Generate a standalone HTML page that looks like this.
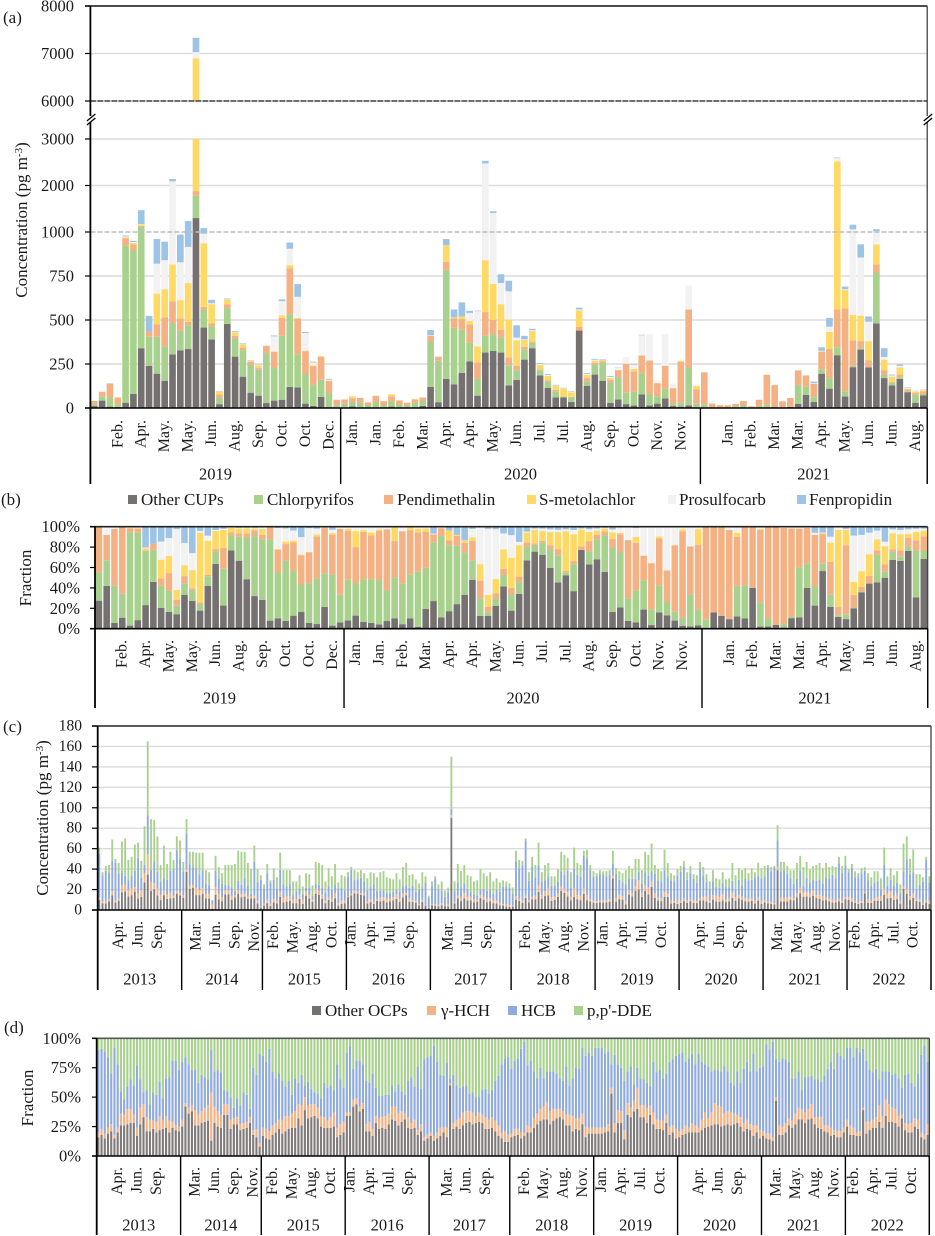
<!DOCTYPE html>
<html lang="en">
<head>
<meta charset="utf-8">
<title>Pesticide concentrations and fractions</title>
<style>
html,body{margin:0;padding:0;background:#fff;}
svg{display:block;font-family:"Liberation Serif",serif;fill:#1a1a1a;filter:blur(0.35px);}
</style>
</head>
<body>
<svg id="fig" xmlns="http://www.w3.org/2000/svg" width="935" height="1236" viewBox="0 0 935 1236">
  <rect x="0" y="0" width="935" height="1236" fill="#fff"/>
  <g id="layer-a"></g>
  <g id="layer-b"></g>
  <g id="layer-c"></g>
  <g id="layer-d"></g>

  <text x="3" y="23" font-size="17">(a)</text>
  <text x="1" y="505" font-size="17">(b)</text>
  <text x="3" y="732" font-size="17">(c)</text>
  <text x="4" y="1033" font-size="17">(d)</text>

  <text transform="translate(27,220) rotate(-90)" text-anchor="middle" font-size="17">Concentration (pg m<tspan dy="-5" font-size="11">-3</tspan><tspan dy="5">)</tspan></text>
  <text transform="translate(31,578) rotate(-90)" text-anchor="middle" font-size="17">Fraction</text>
  <text transform="translate(48,818) rotate(-90)" text-anchor="middle" font-size="17">Concentration (pg m<tspan dy="-5" font-size="11">-3</tspan><tspan dy="5">)</tspan></text>
  <text transform="translate(33,1098) rotate(-90)" text-anchor="middle" font-size="17">Fraction</text>

  <g font-size="17">
    <rect x="128" y="495" width="9" height="9" fill="#767171"/>
    <text x="141" y="505">Other CUPs</text>
    <rect x="254" y="495" width="9" height="9" fill="#a9d18e"/>
    <text x="267" y="505">Chlorpyrifos</text>
    <rect x="384" y="495" width="9" height="9" fill="#f4b183"/>
    <text x="397" y="505">Pendimethalin</text>
    <rect x="527" y="495" width="9" height="9" fill="#ffd966"/>
    <text x="539" y="505">S-metolachlor</text>
    <rect x="668" y="495" width="8" height="9" fill="#f2f2f2"/>
    <text x="679" y="505">Prosulfocarb</text>
    <rect x="797" y="495" width="9" height="9" fill="#9dc3e6"/>
    <text x="809" y="505">Fenpropidin</text>
  </g>

  <g font-size="17" style='font-family:"Liberation Serif","Noto Serif CJK SC",serif'>
    <rect x="312" y="1006" width="9" height="9" fill="#767171"/>
    <text x="325" y="1016">Other OCPs</text>
    <rect x="427" y="1006" width="9" height="9" fill="#f4b183"/>
    <text x="441" y="1016">γ-HCH</text>
    <rect x="508" y="1006" width="9" height="9" fill="#8faadc"/>
    <text x="521" y="1016">HCB</text>
    <rect x="574" y="1006" width="9" height="9" fill="#a9d18e"/>
    <text x="587" y="1016">p,p'-DDE</text>
  </g>
</svg>

<script>
/* ---------- CUP data: panels (a) and (b), 107 samples ---------- */
const cupOther = [11,42,8,6.5,30,80,340,240,195,155, 305,328,335,1300,457,390,22,478,292,178, 87,70,28,42,47,120,117,25,12,63, 5,3,4,9,4,2,3,3,8,2, 3,1,12,120,33,165,135,200,265,70, 315,325,315,128,160,275,340,185,115,60, 60,35,440,125,190,155,30,48,22,15, 78,15,25,55,11,8,15,4,0,4, 2,1.5,3,4,4,1,4,5,0.5,6, 24,75,34,195,110,300,65,232,332,230, 480,170,128,165,90,30,72];
const cupChlorpyrifos = [11,25,52,14,895,815,780,165,210,195, 175,110,135,480,100,75,35,90,103,150, 160,147,282,185,363,412,188,168,118,97, 83,13,20,22,25,15,31,12,31,18, 13,28,25,255,235,620,320,245,105,95, 95,95,85,115,55,55,30,30,35,35, 3,25,0,25,55,100,115,125,65,78, 120,65,42,55,12,22,215,20,18,0, 0,0,7.5,13,0,11.5,15,0,1.5,1, 107,45,28,25,60,45,30,8,8,0, 290,20,15,10,5,45,8];
const cupPendimethalin = [18,25,80,39.5,40,35,10,30,70,165, 125,70,20,100,18,15,20,20,15,15, 15,10,43,92,102,262,202,130,108,130, 65,31,24,25,28,15,35,24,28,23, 13,20,22,35,22,45,55,60,105,95, 135,80,45,45,25,17,7,5,8,8, 2,3,20,20,12,10,15,40,165,115, 100,190,72,130,90,232,330,81,185,21, 14,14,12,23,6,34,170,125,36,50, 83,65,76,100,165,215,470,145,40,40, 45,25,5,15,10,10,15];
const cupSMetolachlor = [0,0,0,0,5,8,30,0,175,160, 210,105,220,5020,360,110,17,28,20,18, 5,15,0,3,15,18,5,3,5,3, 3,0,1,11,1,1,1,0,11,0, 1,2,2,0,2,95,5,15,20,90, 295,205,145,215,145,40,60,25,25,22, 45,25,95,18,12,8,12,3,0,14, 0,0,3,0,0,6,0,20,0,0, 0,0,1,0,0,0.5,0,0,0,0, 0,0,0,3,97,1960,105,145,145,110, 115,60,30,40,5,8,6];
const cupProsulfocarb = [0,8,3,0,5,5,10,0,170,165, 1275,215,205,130,55,5,1,2,3,2, 2,3,0,85,80,93,120,100,15,0, 5,1,1,3,2,2,2,1,0,2, 0,1,1,3,3,0,0,0,45,200, 1635,705,120,160,15,3,5,5,5,3, 2,4,5,5,5,2,5,12,38,22, 115,150,15,180,25,7,135,3,0,0, 0,0.5,1.5,0,0,1,1,0,0.5,1, 4,2,3,2,30,70,5,527,330,110, 90,15,7,10,5,3,2];
const cupFenpropidin = [0,0,0,0,5,7,300,88,140,105, 50,157,320,300,95,20,2,4,5,4, 3,2,1,5,10,35,72,6,5,1, 5,0,0,0,0,0,0,0,0,0, 0,0,0,30,0,35,45,80,12,3, 55,35,50,60,70,20,8,5,5,4, 3,3,10,5,5,3,5,2,0,3, 3,0,0,0,0,0,0,0,0,0, 0,0,0,0,0,0,0,0,0,0, 0,0,9,20,50,10,15,100,75,30, 40,50,5,8,3,2,2];
const cupMonthLabels = ['','Feb.','Apr.','May.','May.','Jun.','Aug.','Sep.','Oct.','Oct.','Dec.','Jan.','Jan.','Feb.','Mar.','Apr.','Apr.','May.','Jun.','Jul.','Jul.','Aug.','Sep.','Oct.','Nov.','Nov.','','Jan.','Feb.','Mar.','Mar.','Apr.','May.','Jun.','Jun.','Aug.'];
const cupYears = ['2019','2020','2021'];
const cupYearCounts = [32,46,29];
const cupConcentrationTicks = [0,250,500,750,1000,2000,3000,6000,7000,8000];
const cupFractionTicks = [0,20,40,60,80,100];

/* ---------- OCP data: panels (c) and (d), 258 samples ---------- */
const ocpTotal = [61,37,43,44,69,50,46,67,70,49,52,64,66,48,82,165,89,88,72,44,63,45,57,49,72,68,
47,89,57,57,56,56,56,39,37,10,53,42,36,44,44,44,45,58,57,57,46,40,63,40,34,
25,45,29,41,32,56,39,39,39,28,28,34,23,36,35,24,47,46,44,28,41,33,45,27,34,33,
37,42,39,37,39,36,31,37,36,32,37,38,32,31,30,36,30,42,46,34,35,30,26,37,33,14,
28,33,25,28,19,22,150,28,45,38,44,34,33,28,29,40,36,33,37,28,31,27,29,28,26,
22,58,49,48,70,37,52,44,66,37,44,46,33,33,40,57,54,51,37,61,46,44,58,59,44,38,
36,39,38,38,39,58,41,38,36,39,43,40,50,50,39,57,54,65,44,40,38,59,46,36,34,40,
43,48,37,43,35,34,47,42,35,28,39,31,30,37,30,31,46,34,41,39,41,36,41,37,46,41,
43,44,42,43,83,47,47,43,39,39,46,53,42,47,40,43,44,46,41,46,42,43,42,52,43,53,
40,45,38,36,41,42,36,32,38,38,31,61,33,41,34,38,25,65,72,50,59,35,35,32,52,33];
const ocpOtherPct = [16,18,15,19,21,15,20,26,26,27,28,28,17,27,33,21,21,23,20,22,23,24,20,24,22,21,
25,42,36,38,26,26,28,29,30,13,28,25,24,35,35,23,27,27,22,23,24,28,18,16,8,
17,15,14,18,20,23,19,21,23,24,24,32,26,39,32,33,34,32,25,24,24,24,25,16,18,20,
34,34,42,44,38,40,21,21,17,28,23,24,23,27,31,30,26,29,31,24,23,24,18,21,13,15,
17,13,15,17,20,16,60,23,25,23,26,28,29,27,28,29,28,23,23,24,21,17,15,12,12,
16,17,18,15,17,20,20,24,27,30,31,31,27,30,32,33,31,26,26,21,23,22,27,16,19,19,
19,19,19,20,21,53,20,28,28,14,35,33,38,40,33,33,28,35,27,23,23,22,28,18,20,15,
16,18,19,20,20,20,20,22,24,25,26,27,27,25,26,27,26,27,28,25,21,23,22,17,20,15,
17,15,14,13,47,18,18,20,26,24,27,31,31,28,31,32,27,24,23,21,20,17,18,16,16,20,
25,18,18,17,17,39,19,22,24,24,29,24,34,29,29,28,25,32,22,20,20,25,23,16,14,18];
const ocpGammaPct = [4,5,4,5,6,3,4,10,9,13,12,7,7,14,11,12,10,7,9,12,7,10,10,5,4,4,
6,3,5,5,13,9,10,12,13,41,14,13,11,9,9,8,5,6,5,5,5,5,4,7,3,
7,8,7,8,8,8,11,13,11,12,14,12,17,11,11,11,10,9,9,9,6,9,12,8,9,9,
3,3,6,5,4,5,6,8,6,6,9,9,11,9,11,12,10,9,5,9,5,7,4,6,3,3,
3,4,5,7,4,8,2,5,6,9,11,10,9,10,6,8,7,10,8,9,9,9,5,9,6,
3,6,5,5,3,6,4,8,9,10,11,15,11,10,8,7,7,9,9,13,9,10,9,9,5,5,
5,5,5,4,6,5,8,11,10,8,10,8,9,18,10,10,13,8,10,8,7,8,7,7,6,8,
5,5,7,4,8,6,4,9,13,7,11,18,16,17,10,11,11,9,7,8,7,8,5,9,6,7,
4,4,5,3,3,8,7,8,6,6,9,10,9,9,9,12,6,9,10,5,6,7,4,5,5,4,
6,8,6,3,4,2,10,7,7,9,14,10,14,15,12,12,9,3,6,7,8,7,8,4,4,9];
const ocpHcbPct = [70,68,70,60,43,74,54,19,13,19,25,25,53,24,10,23,13,24,23,29,19,32,37,52,55,48,
49,39,37,30,34,27,31,26,22,36,30,35,36,12,11,19,9,16,16,26,23,7,53,46,76,
61,57,70,46,38,39,34,25,30,16,28,18,26,10,20,13,10,12,15,29,28,27,19,54,38,29,
51,56,26,32,39,33,37,33,47,24,19,18,18,16,18,13,25,17,16,31,39,28,54,30,66,66,
65,77,60,45,44,55,4,41,29,26,22,22,15,17,16,13,21,24,22,23,34,42,58,62,66,
55,58,60,71,77,51,57,40,30,35,24,26,34,32,30,26,26,41,25,32,43,42,56,60,64,61,
68,68,68,63,62,20,58,39,37,42,27,35,14,17,23,22,21,16,43,40,43,36,35,55,56,62,
66,65,54,59,59,52,63,49,41,44,35,28,30,30,40,34,25,24,37,29,46,49,45,61,46,53,
55,76,71,81,32,54,58,54,48,36,30,31,16,30,27,24,32,32,30,42,48,56,52,67,64,58,
61,66,60,72,67,50,52,44,40,41,22,38,24,28,28,30,32,23,41,43,34,27,39,66,76,53];
const ocpDdePct = [10,9,11,16,30,8,22,45,52,41,35,40,23,35,46,44,56,46,48,37,51,34,33,19,19,27,
20,16,22,27,27,38,31,33,35,10,28,27,29,44,45,50,59,51,57,46,48,60,25,31,13,
15,20,9,28,34,30,36,41,36,48,34,38,31,40,37,43,46,47,51,38,42,40,44,22,35,42,
12,7,26,19,19,22,36,38,30,42,49,49,48,48,40,45,39,45,48,36,33,41,24,43,18,16,
15,6,20,31,32,21,34,31,40,42,41,40,47,46,50,50,44,43,47,44,36,32,22,17,16,
26,19,17,9,3,23,19,28,34,25,34,28,28,28,30,34,36,24,40,34,25,26,8,15,12,15,
8,8,8,13,11,22,14,22,25,36,28,24,39,25,34,35,38,41,20,29,27,34,30,20,18,15,
13,12,20,17,13,22,13,20,22,24,28,27,27,28,24,28,38,40,28,38,26,20,28,13,28,25,
24,5,10,3,18,20,17,18,20,34,34,28,44,33,33,32,35,35,37,32,26,20,26,12,15,18,
8,8,16,8,12,9,19,27,29,26,35,28,28,28,31,30,34,42,31,30,38,41,30,14,6,20];
const ocpMonthLabels = ['','Apr.','Jun.','Sep.','','Mar.','Jun.','Sep.','Nov.','Feb.','May.','Aug.','Oct.','Jan.','Apr.','Jul.','Sep.','','Mar.','Jun.','Sep.','','Feb.','May.','Aug.','Nov.','Jan.','Apr.','Jul.','Oct.','','Apr.','Jun.','Sep.','','Mar.','May.','Aug.','Nov.','Feb.','Apr.','Jul.','Oct.'];
const ocpYears = ['2013','2014','2015','2016','2017','2018','2019','2020','2021','2022'];
const ocpYearCounts = [26,25,26,26,25,26,26,26,26,26];
const ocpConcentrationTicks = [0,20,40,60,80,100,120,140,160,180];
const ocpFractionTicks = [0,25,50,75,100];

const cupSeries = [
  {key:'other-cups', values:cupOther, color:'#767171'},
  {key:'chlorpyrifos', values:cupChlorpyrifos, color:'#a9d18e'},
  {key:'pendimethalin', values:cupPendimethalin, color:'#f4b183'},
  {key:'s-metolachlor', values:cupSMetolachlor, color:'#ffd966'},
  {key:'prosulfocarb', values:cupProsulfocarb, color:'#f2f2f2'},
  {key:'fenpropidin', values:cupFenpropidin, color:'#9dc3e6'}
];
const ocpPctSeries = [
  {key:'other-ocps', values:ocpOtherPct, color:'#7f7b7b'},
  {key:'gamma-hch', values:ocpGammaPct, color:'#f4b183'},
  {key:'hcb', values:ocpHcbPct, color:'#8faadc'},
  {key:'pp-dde', values:ocpDdePct, color:'#a9d18e'}
];

const NS = 'http://www.w3.org/2000/svg';
function mk(parent, tag, attrs) {
  const el = document.createElementNS(NS, tag);
  for (const k in attrs) el.setAttribute(k, attrs[k]);
  parent.appendChild(el);
  return el;
}
function line(parent, name, x1, y1, x2, y2, stroke, width, dash) {
  const attrs = {x1, y1, x2, y2, stroke, 'stroke-width': width};
  if (dash) attrs['stroke-dasharray'] = dash;
  const el = mk(parent, 'line', attrs);
  
  
  return el;
}
function text(parent, name, str, attrs) {
  const el = mk(parent, 'text', attrs);
  el.textContent = str;
  
  
  return el;
}

/* y axis functions */
function yCupConc(v) {
  if (v <= 1000) return 408 - v * 0.176;
  if (v <= 3000) return 232 - (v - 1000) * 0.0465;
  if (v >= 6000) return 101 - (v - 6000) * 0.0475;
  return 139;
}
function yCupFrac(p) { return 628.7 - p * 1.02; }
function yOcpConc(v) { return 910 - v * 184 / 180; }
function yOcpFrac(p) { return 1156 - p * 1.177; }

function drawBarSeg(g, name, x, w, y0, y1, color) {
  const r = mk(g, 'rect', {x: x.toFixed(2), y: y1.toFixed(2), width: w.toFixed(2), height: Math.max(0, y0 - y1).toFixed(2), fill: color});
  
  
}

function drawAxes(g, p) {
  const n = p.count, pitch = (p.right - p.left) / n;
  line(g, p.id + '-top-border', p.tickLeft, p.top, p.right, p.top, p.topColor, 1.6);
  line(g, p.id + '-right-border', p.right, p.top, p.right, p.axisBottom, '#333', 1.2);
  line(g, p.id + '-y-axis-line', p.left, p.top, p.left, p.axisBottom, '#000', 1.8);
  line(g, p.id + '-x-axis-line', p.tickLeft, p.base, p.right, p.base, '#000', 1.6);
  p.ticks.forEach(function (t) {
    const y = p.y(t);
    line(g, p.id + '-y-tick', p.tickLeft, y, p.left, y, '#000', 1.2);
    text(g, p.id + '-y-tick-label', t + p.suffix, {x: p.labelRight, y: y.toFixed(1), 'text-anchor': 'end', 'dominant-baseline': 'central', 'font-size': p.tickFont});
  });
  p.monthLabels.forEach(function (m, k) {
    if (!m) return;
    const x = p.left + (k * p.labelStep + 0.5) * pitch;
    text(g, p.id + '-month-label', m, {transform: 'translate(' + x.toFixed(1) + ',' + p.monthTop + ') rotate(-90)', 'text-anchor': 'end', 'dominant-baseline': 'central', 'font-size': 16});
  });
  let cum = 0;
  p.years.forEach(function (yr, i) {
    const x0 = p.left + cum * pitch;
    cum += p.yearCounts[i];
    const x1 = p.left + cum * pitch;
    line(g, p.id + '-year-divider', x1, p.base, x1, p.axisBottom, '#000', 1.4);
    text(g, p.id + '-year-label', yr, {x: ((x0 + x1) / 2).toFixed(1), y: p.yearY, 'text-anchor': 'middle', 'dominant-baseline': 'central', 'font-size': 16.5});
  });
}

function drawGrid(g, p, skip) {
  p.ticks.forEach(function (t) {
    if (skip && skip.indexOf(t) >= 0) return;
    if (t === p.ticks[0]) return;
    if (t === p.ticks[p.ticks.length - 1]) return;
    const y = p.y(t);
    line(g, p.id + '-gridline', p.left, y, p.right, y, '#dcdcdc', 1.4);
  });
}

/* Panel (a) */
(function () {
  const g = document.getElementById('layer-a');
  const p = {id:'panel-a', left:90.4, right:927.2, top:6, base:408, axisBottom:484, tickLeft:85, labelRight:74, count:cupOther.length,
    y:yCupConc, ticks:cupConcentrationTicks, suffix:'', tickFont:16.5, topColor:'#111',
    monthLabels:cupMonthLabels, labelStep:3, monthTop:420, years:cupYears, yearCounts:cupYearCounts, yearY:474};
  drawGrid(g, p, [1000, 6000]);
  const pitch = (p.right - p.left) / p.count, w = pitch * 0.85;
  for (let i = 0; i < p.count; i++) {
    let cum = 0;
    const x = p.left + i * pitch + (pitch - w) / 2;
    cupSeries.forEach(function (s) {
      const a = cum, b = cum + s.values[i];
      cum = b;
      if (b <= a) return;
      if (a < 3000) drawBarSeg(g, 'bar-' + s.key, x, w, yCupConc(a), yCupConc(Math.min(b, 3000)), s.color);
      if (b > 6000) drawBarSeg(g, 'bar-' + s.key + '-upper', x, w, yCupConc(Math.max(a, 6000)), yCupConc(b), s.color);
    });
  }
  line(g, 'panel-a-gridline-1000-dashed', p.left, yCupConc(1000), p.right, yCupConc(1000), '#bdbdbd', 1.5, '5 2');
  line(g, 'panel-a-gridline-6000-dashed', p.left, yCupConc(6000), p.right, yCupConc(6000), '#595959', 1.8, '6 1');
  drawAxes(g, p);
  [p.left, p.right].forEach(function (bx) {
    const r = mk(g, 'rect', {x: bx - 3, y: 116, width: 6, height: 6, fill: '#fff'});
    
    
    line(g, 'axis-break-mark', bx - 3.5, 121, bx + 5, 114, '#000', 1.3);
    line(g, 'axis-break-mark', bx - 3.5, 125, bx + 5, 118, '#000', 1.3);
  });
})();

/* Panel (b): the same samples as (a), 100% stacked */
(function () {
  const g = document.getElementById('layer-b');
  const p = {id:'panel-b', left:95, right:927.7, top:526.7, base:628.7, axisBottom:708, tickLeft:90, labelRight:80, count:cupOther.length,
    y:yCupFrac, ticks:cupFractionTicks, suffix:'%', tickFont:16.5, topColor:'#222',
    monthLabels:cupMonthLabels, labelStep:3, monthTop:640, years:cupYears, yearCounts:cupYearCounts, yearY:698};
  const pitch = (p.right - p.left) / p.count, w = pitch * 0.85;
  for (let i = 0; i < p.count; i++) {
    let total = 0;
    cupSeries.forEach(function (s) { total += s.values[i]; });
    let cum = 0;
    const x = p.left + i * pitch + (pitch - w) / 2;
    cupSeries.forEach(function (s) {
      const a = cum, b = cum + s.values[i];
      cum = b;
      if (b <= a || total <= 0) return;
      drawBarSeg(g, 'fraction-bar-' + s.key, x, w, yCupFrac(a / total * 100), yCupFrac(b / total * 100), s.color);
    });
  }
  drawAxes(g, p);
})();

/* Panel (c): concentration = total x share of each compound */
(function () {
  const g = document.getElementById('layer-c');
  const p = {id:'panel-c', left:97.7, right:931, top:726, base:910, axisBottom:990, tickLeft:92, labelRight:82, count:ocpTotal.length,
    y:yOcpConc, ticks:ocpConcentrationTicks, suffix:'', tickFont:15.5, topColor:'#222',
    monthLabels:ocpMonthLabels, labelStep:6, monthTop:921, years:ocpYears, yearCounts:ocpYearCounts, yearY:979};
  drawGrid(g, p);
  const pitch = (p.right - p.left) / p.count, w = pitch * 0.58;
  for (let i = 0; i < p.count; i++) {
    let sum = 0;
    ocpPctSeries.forEach(function (s) { sum += s.values[i]; });
    let cum = 0;
    const x = p.left + i * pitch + (pitch - w) / 2;
    ocpPctSeries.forEach(function (s) {
      const a = cum, b = cum + ocpTotal[i] * s.values[i] / sum;
      cum = b;
      drawBarSeg(g, 'bar-' + s.key, x, w, yOcpConc(a), yOcpConc(b), s.color);
    });
  }
  drawAxes(g, p);
})();

/* Panel (d) */
(function () {
  const g = document.getElementById('layer-d');
  const p = {id:'panel-d', left:96.7, right:929.3, top:1038.3, base:1156, axisBottom:1235, tickLeft:92, labelRight:81, count:ocpOtherPct.length,
    y:yOcpFrac, ticks:ocpFractionTicks, suffix:'%', tickFont:16.5, topColor:'#555',
    monthLabels:ocpMonthLabels, labelStep:6, monthTop:1167, years:ocpYears, yearCounts:ocpYearCounts, yearY:1225};
  const pitch = (p.right - p.left) / p.count, w = pitch * 0.66;
  for (let i = 0; i < p.count; i++) {
    let sum = 0;
    ocpPctSeries.forEach(function (s) { sum += s.values[i]; });
    let cum = 0;
    const x = p.left + i * pitch + (pitch - w) / 2;
    ocpPctSeries.forEach(function (s) {
      const a = cum, b = cum + s.values[i] / sum * 100;
      cum = b;
      drawBarSeg(g, 'fraction-bar-' + s.key, x, w, yOcpFrac(a), yOcpFrac(b), s.color);
    });
  }
  drawAxes(g, p);
})();
</script>
</body>
</html>
